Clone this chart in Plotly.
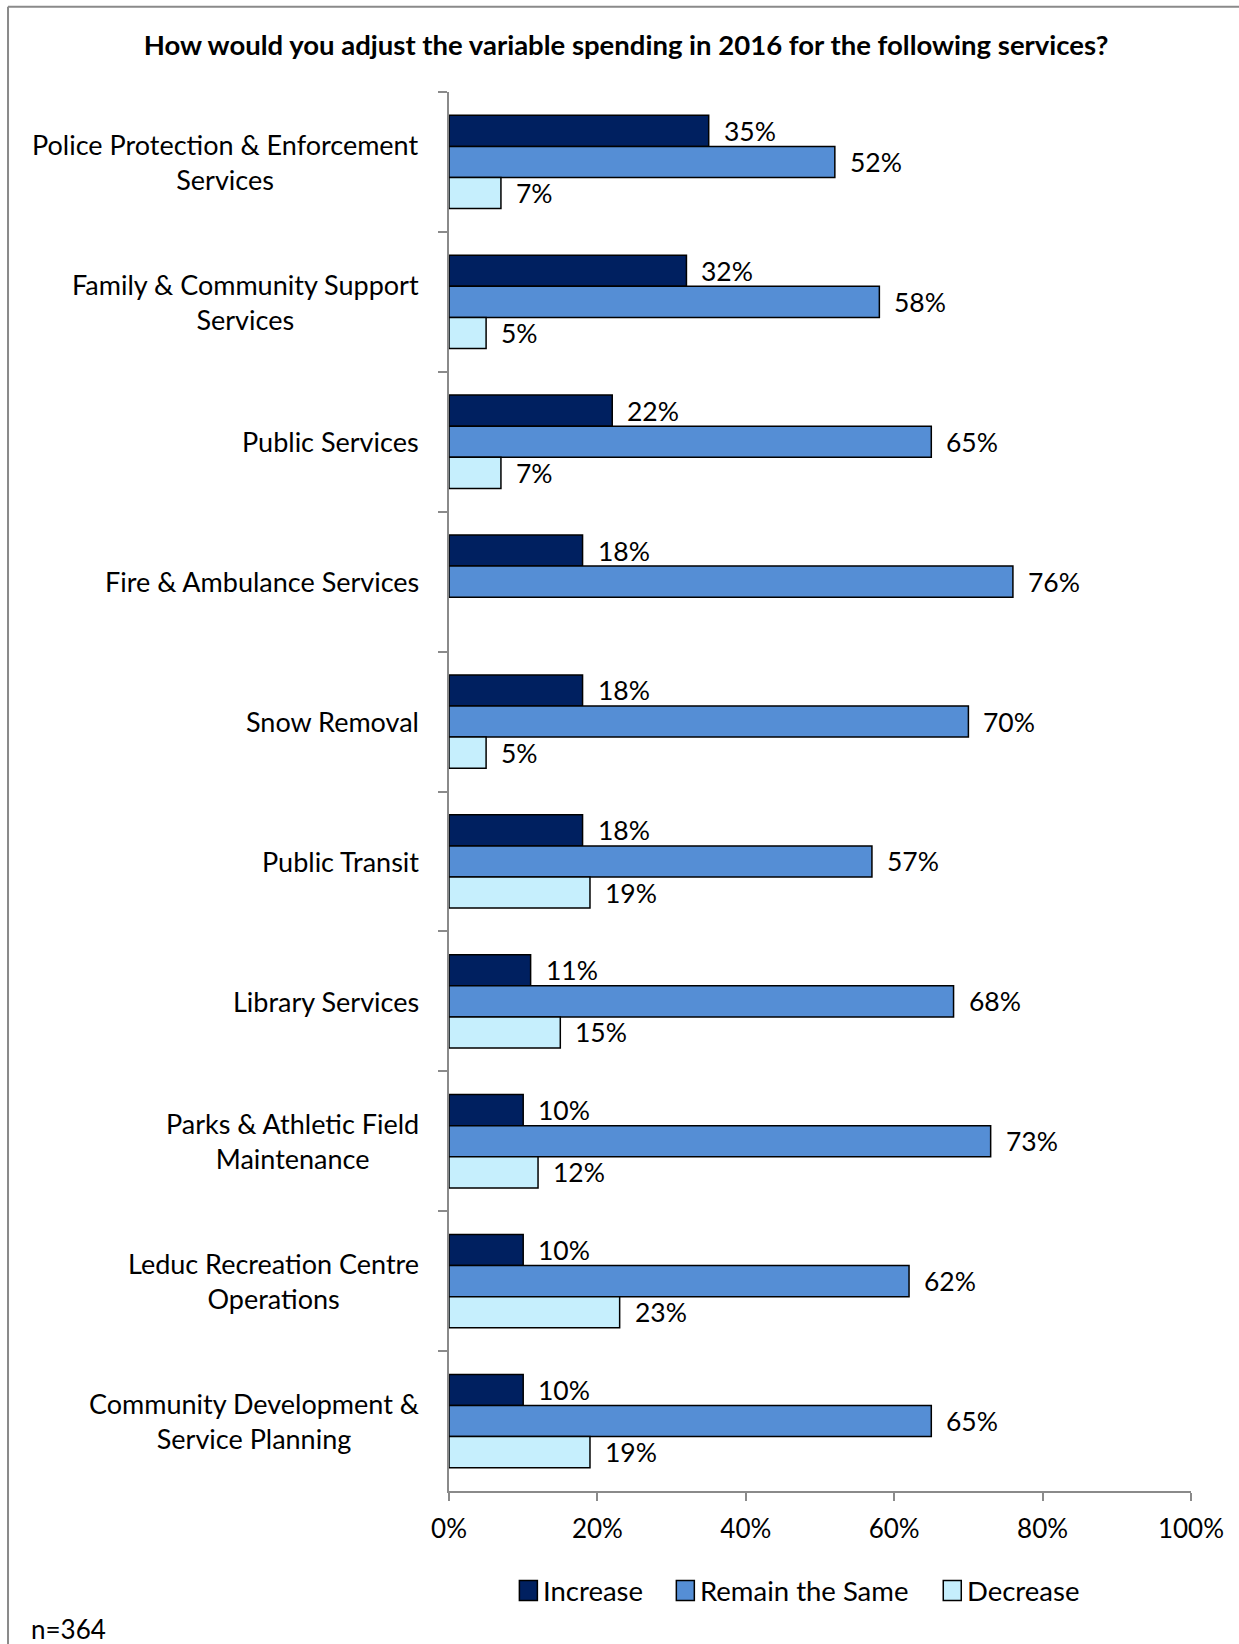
import plotly.graph_objects as go

# Survey categories, top to bottom
categories = [
    "Police Protection & Enforcement<br>Services",
    "Family & Community Support<br>Services",
    "Public Services",
    "Fire & Ambulance Services",
    "Snow Removal",
    "Public Transit",
    "Library Services",
    "Parks & Athletic Field<br>Maintenance",
    "Leduc Recreation Centre<br>Operations",
    "Community Development &<br>Service Planning",
]

increase = [0.35, 0.32, 0.22, 0.18, 0.18, 0.18, 0.11, 0.10, 0.10, 0.10]
remain_same = [0.52, 0.58, 0.65, 0.76, 0.70, 0.57, 0.68, 0.73, 0.62, 0.65]
decrease = [0.07, 0.05, 0.07, None, 0.05, 0.19, 0.15, 0.12, 0.23, 0.19]

series_names = ["Increase", "Remain the Same", "Decrease"]
series_colors = ["#002060", "#558ED5", "#C6EFFD"]

FONT = "Lato"
W, H = 1239, 1644
ML, MR, MT, MB = 448.6, 48.2, 92.2, 153.4
PW, PH = W - ML - MR, H - MT - MB


def xp(px):
    return (px - ML) / PW


def yp(py):
    return (H - MB - py) / PH


fig = go.Figure()
for name, vals, col in zip(series_names, [increase, remain_same, decrease], series_colors):
    fig.add_trace(go.Bar(
        name=name, y=categories, x=vals, orientation="h",
        marker=dict(color=col, line=dict(color="black", width=1.5)),
        hoverinfo="x+name", showlegend=False,
    ))

annotations = []
# value labels next to each bar end
band_px = PH / len(categories)
bar_px = band_px * (2 / 3) / 3
for k, vals in enumerate([increase, remain_same, decrease]):
    for cat, v in zip(categories, vals):
        if v is None:
            continue
        annotations.append(dict(
            x=v, y=cat, xref="x", yref="y", text=f"{round(v * 100)}%",
            showarrow=False, xanchor="left", yanchor="middle",
            xshift=13, yshift=(1 - k) * bar_px,
            font=dict(family=FONT, size=26.5, color="black"),
        ))

# category labels, centred lines right-aligned against the axis
for cat in categories:
    annotations.append(dict(
        x=0, y=cat, xref="paper", yref="y", text=cat, align="center",
        showarrow=False, xanchor="right", yanchor="middle", xshift=-28,
        font=dict(family=FONT, size=27, color="black"),
    ))

annotations.append(dict(
    x=xp(28), y=yp(1629), xref="paper", yref="paper", text="n=364",
    showarrow=False, xanchor="left", yanchor="middle",
    font=dict(family=FONT, size=26, color="black"),
))

shapes = [
    dict(type="line", xref="paper", yref="paper", x0=xp(7.5), x1=xp(W + 5), y0=yp(7), y1=yp(7),
         line=dict(color="#8a8a8a", width=2)),
    dict(type="line", xref="paper", yref="paper", x0=xp(7.5), x1=xp(7.5), y0=yp(7), y1=yp(H + 5),
         line=dict(color="#8a8a8a", width=2)),
]

# legend: outlined square swatches followed by the series name
legend_x = [519, 676, 943]
legend_y = 1590
sw = 18
for name, col, lx in zip(series_names, series_colors, legend_x):
    shapes.append(dict(
        type="rect", xref="paper", yref="paper",
        x0=xp(lx), x1=xp(lx + sw), y0=yp(legend_y - 10), y1=yp(legend_y + 10),
        fillcolor=col, line=dict(color="black", width=1.5),
    ))
    annotations.append(dict(
        x=xp(lx + sw + 4), y=yp(legend_y), xref="paper", yref="paper", text=name,
        showarrow=False, xanchor="left", yanchor="middle",
        font=dict(family=FONT, size=27.5, color="black"),
    ))

fig.update_layout(
    width=W, height=H,
    margin=dict(l=ML, r=MR, t=MT, b=MB, autoexpand=False),
    paper_bgcolor="white", plot_bgcolor="white",
    barmode="group", bargap=1 / 3, bargroupgap=0,
    title=dict(
        text="<b>How would you adjust the variable spending in 2016 for the following services?</b>",
        x=626 / W, xanchor="center", y=1 - 45 / H, yanchor="middle",
        font=dict(family=FONT, size=27.5, color="black"),
    ),
    xaxis=dict(
        range=[0, 1], dtick=0.2, tickformat=".0%", showgrid=False, zeroline=False,
        showline=True, linecolor="#8a8a8a", linewidth=2,
        ticks="outside", ticklen=8, tickcolor="#8a8a8a", tickwidth=2,
        tickfont=dict(family=FONT, size=26, color="black"), ticklabelstandoff=6,
    ),
    yaxis=dict(
        type="category", range=[len(categories) - 0.5, -0.5], showticklabels=False,
        showgrid=False, zeroline=False, showline=True, linecolor="#8a8a8a", linewidth=2,
        ticks="outside", tickson="boundaries", ticklen=9, tickcolor="#8a8a8a", tickwidth=2,
    ),
    annotations=annotations, shapes=shapes,
    showlegend=False,
)

fig.write_html("out.html")
